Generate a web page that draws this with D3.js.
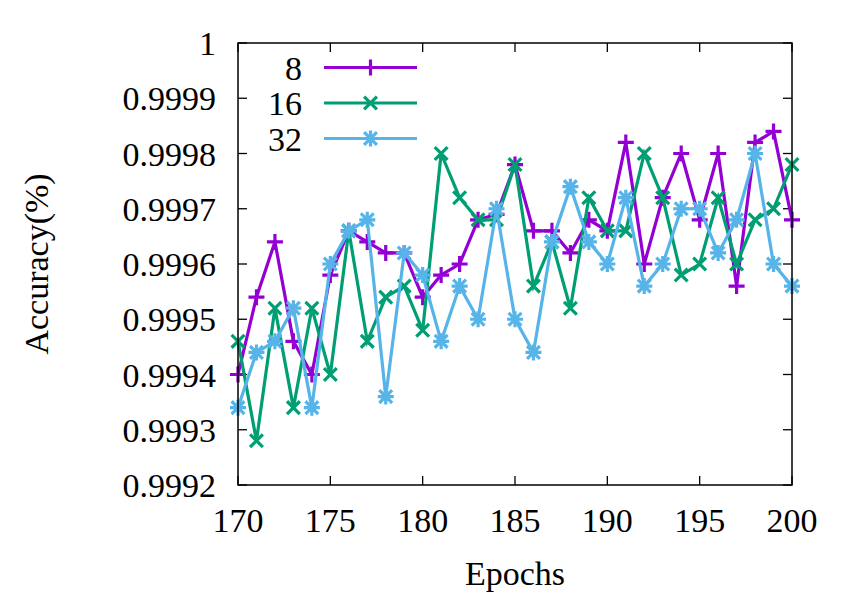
<!DOCTYPE html>
<html><head><meta charset="utf-8">
<script src="https://cdn.jsdelivr.net/npm/d3@7"></script>
<style>body{margin:0;background:#fff}</style>
</head><body>
<svg id="c" width="855" height="598"></svg>
<script>
const epochs = d3.range(170, 201);
const acc8  = [0.9994,0.99954,0.99964,0.99946,0.9994,0.99958,0.99966,0.99964,0.99962,0.99962,0.99954,
               0.99958,0.9996,0.99968,0.99969,0.99978,0.99966,0.99966,0.99962,0.99968,0.99966,
               0.99982,0.9996,0.99972,0.9998,0.99968,0.9998,0.99956,0.99982,0.99984,0.99968];
const acc16 = [0.99946,0.99928,0.99952,0.99934,0.99952,0.9994,0.99966,0.99946,0.99954,0.99956,0.99948,
               0.9998,0.99972,0.99968,0.99968,0.99978,0.99956,0.99964,0.99952,0.99972,0.99966,
               0.99966,0.9998,0.99972,0.99958,0.9996,0.99972,0.9996,0.99968,0.9997,0.99978];
const acc32 = [0.99934,0.99944,0.99946,0.99952,0.99934,0.9996,0.99966,0.99968,0.99936,0.99962,0.99958,
               0.99946,0.99956,0.9995,0.9997,0.9995,0.99944,0.99964,0.99974,0.99964,0.9996,
               0.99972,0.99956,0.9996,0.9997,0.9997,0.99962,0.99968,0.9998,0.9996,0.99956];
const seriesNames = ["8","16","32"];
const colors = ["#9400d3","#009e73","#56b4e9"];
const markers = ["plus","cross","star"];
const xTicks = [170,175,180,185,190,195,200];
const yTicks = [0.9992,0.9993,0.9994,0.9995,0.9996,0.9997,0.9998,0.9999,1];

const L=238, R=792, T=43, B=485;
const svg = d3.select("#c");
const x = d3.scaleLinear().domain([170,200]).range([L,R]);
const y = d3.scaleLinear().domain([0.9992,1]).range([B,T]);
const FF = "Liberation Serif";
const fs = 34;

const tl = 9;
const gTicks = svg.append("g").attr("stroke","#000").attr("stroke-width",1.3);
xTicks.forEach(t=>{
  gTicks.append("line").attr("x1",x(t)).attr("x2",x(t)).attr("y1",B).attr("y2",B-tl);
  gTicks.append("line").attr("x1",x(t)).attr("x2",x(t)).attr("y1",T).attr("y2",T+tl);
});
yTicks.forEach(t=>{
  gTicks.append("line").attr("x1",L).attr("x2",L+tl).attr("y1",y(t)).attr("y2",y(t));
  gTicks.append("line").attr("x1",R).attr("x2",R-tl).attr("y1",y(t)).attr("y2",y(t));
});

svg.append("g").selectAll("text").data(xTicks).join("text")
  .attr("x",d=>x(d)).attr("y",B+47).attr("text-anchor","middle")
  .attr("font-family",FF).attr("font-size",fs).text(d=>d);
svg.append("g").selectAll("text").data(yTicks).join("text")
  .attr("x",L-22).attr("y",d=>y(d)+12).attr("text-anchor","end")
  .attr("font-family",FF).attr("font-size",fs).text(d=>d3.format("")(d));

svg.append("text").attr("x",(L+R)/2).attr("y",585).attr("text-anchor","middle")
  .attr("font-family",FF).attr("font-size",fs).text("Epochs");
svg.append("text").attr("transform",`translate(48,${(T+B)/2}) rotate(-90)`).attr("text-anchor","middle")
  .attr("font-family",FF).attr("font-size",fs).text("Accuracy(%)");

function marker(g, type, cx, cy, color){
  const s=8;
  const p = d3.path();
  if(type==="plus"||type==="star"){ p.moveTo(cx-s,cy); p.lineTo(cx+s,cy); p.moveTo(cx,cy-s); p.lineTo(cx,cy+s); }
  if(type==="cross"||type==="star"){ const c=s*0.8; p.moveTo(cx-c,cy-c); p.lineTo(cx+c,cy+c); p.moveTo(cx-c,cy+c); p.lineTo(cx+c,cy-c); }
  g.append("path").attr("d",p.toString()).attr("stroke",color).attr("stroke-width",3.2).attr("fill","none");
}

const data = [acc8, acc16, acc32];
const line = d3.line().x((d,i)=>x(epochs[i])).y(d=>y(d));
data.forEach((vals,k)=>{
  const g = svg.append("g");
  g.append("path").datum(vals).attr("d",line).attr("fill","none")
    .attr("stroke",colors[k]).attr("stroke-width",3.2).attr("stroke-linejoin","miter");
  vals.forEach((v,i)=>marker(g, markers[k], x(epochs[i]), y(v), colors[k]));
});

const legY = [67.5,103,138.5];
seriesNames.forEach((n,k)=>{
  svg.append("text").attr("x",302).attr("y",legY[k]+12).attr("text-anchor","end")
    .attr("font-family",FF).attr("font-size",fs).text(n);
  svg.append("line").attr("x1",324).attr("x2",417).attr("y1",legY[k]).attr("y2",legY[k])
    .attr("stroke",colors[k]).attr("stroke-width",3.2);
  marker(svg, markers[k], 370.5, legY[k], colors[k]);
});

svg.append("rect").attr("x",L).attr("y",T).attr("width",R-L).attr("height",B-T)
  .attr("fill","none").attr("stroke","#000").attr("stroke-width",1.5);
</script>
</body></html>
